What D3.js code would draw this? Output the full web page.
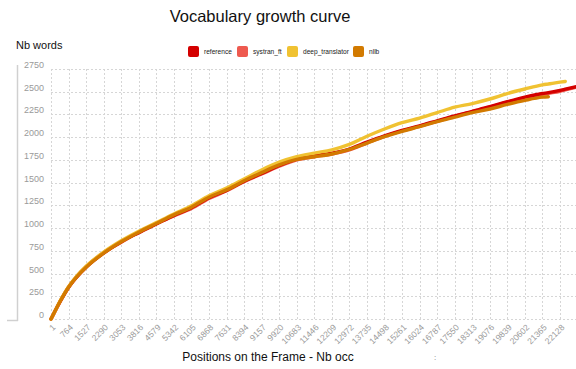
<!DOCTYPE html>
<html>
<head>
<meta charset="utf-8">
<script src="https://cdn.jsdelivr.net/npm/d3@7"></script>
<style>
  html, body { margin: 0; padding: 0; background: #fff; }
  svg { display: block; font-family: "Liberation Sans", Arial, sans-serif; }
</style>
</head>
<body>
<svg id="chart" width="576" height="369"></svg>
<script>
// Sample positions (number of occurrences read so far)
const positions = [1, 150, 400, 764, 1146, 1527, 2290, 3053, 3816, 4579, 5342, 6105, 6868, 7631, 8394,
  9157, 9920, 10683, 11446, 12209, 12972, 13735, 14498, 15261, 16024, 16787, 17550, 18313,
  19076, 19839, 20602, 21365, 21620, 22128, 22357, 23000];

// Distinct words seen at each position, per system
const reference = [0, 75, 195, 350, 470, 570, 725, 850, 950, 1045, 1140, 1225, 1335, 1415, 1515,
  1600, 1690, 1760, 1795, 1825, 1870, 1945, 2015, 2075, 2125, 2180, 2235, 2285, 2335, 2390,
  2440, 2480, 2490, 2515, 2528, 2565];
const systran_ft = [0, 72, 190, 345, 475, 575, 730, 845, 955, 1050, 1135, 1215, 1325, 1410, 1510,
  1595, 1680, 1750, 1785, 1815, 1860, 1935, 2010, 2070, 2120, 2175, 2230, 2280, 2330, 2385,
  2430, 2470, 2482, 2505, 2520, 2560];
const deep_translator = [0, 75, 200, 355, 480, 580, 735, 860, 965, 1060, 1155, 1245, 1355, 1440, 1540,
  1640, 1725, 1785, 1825, 1860, 1920, 2010, 2090, 2160, 2210, 2270, 2330, 2370, 2420, 2480,
  2530, 2575, 2585, 2605, 2613, null];
const nllb = [0, 75, 195, 350, 472, 570, 725, 850, 955, 1050, 1145, 1230, 1340, 1420, 1520,
  1610, 1695, 1755, 1785, 1815, 1865, 1935, 2005, 2065, 2115, 2170, 2220, 2270, 2310, 2360,
  2405, 2440, 2445, null, null, null];

const xTicks = [1, 764, 1527, 2290, 3053, 3816, 4579, 5342, 6105, 6868, 7631, 8394, 9157, 9920,
  10683, 11446, 12209, 12972, 13735, 14498, 15261, 16024, 16787, 17550, 18313, 19076, 19839,
  20602, 21365, 22128];
const yTicks = [0, 250, 500, 750, 1000, 1250, 1500, 1750, 2000, 2250, 2500, 2750];

const seriesNames = ["reference", "systran_ft", "deep_translator", "nllb"];
const seriesColors = ["#d40000", "#ee5a4f", "#f0c232", "#d27a00"];
const seriesValues = [reference, systran_ft, deep_translator, nllb];
// draw order: nllb ends up on top
const drawOrder = [1, 0, 2, 3];

const svg = d3.select("#chart");
const W = 576;

const x = d3.scaleLinear().domain([1, 22128]).range([51, 560]);
const y = d3.scaleLinear().domain([0, 2750]).range([319, 69]);

// Title
svg.append("text")
  .attr("x", 260).attr("y", 22)
  .attr("text-anchor", "middle")
  .attr("font-size", 16.5)
  .attr("fill", "#111")
  .text("Vocabulary growth curve");

svg.append("text")
  .attr("x", 16).attr("y", 49)
  .attr("font-size", 11)
  .attr("fill", "#111")
  .text("Nb words");

// Legend
const legendX = [188, 237, 287, 353];
const legend = svg.append("g");
seriesNames.forEach((name, i) => {
  legend.append("rect")
    .attr("x", legendX[i]).attr("y", 46)
    .attr("width", 11).attr("height", 11)
    .attr("rx", 2)
    .attr("fill", seriesColors[i]);
  legend.append("text")
    .attr("x", legendX[i] + 16).attr("y", 54)
    .attr("font-size", 6.6)
    .attr("fill", "#222")
    .text(name);
});

// Left axis line with foot
svg.append("line").attr("x1", 17.5).attr("x2", 17.5).attr("y1", 65).attr("y2", 321)
  .attr("stroke", "#d0d0d0").attr("stroke-width", 1.5);
svg.append("line").attr("x1", 7).attr("x2", 18).attr("y1", 320.5).attr("y2", 320.5)
  .attr("stroke", "#d0d0d0").attr("stroke-width", 1.5);

// Grid
const grid = svg.append("g").attr("stroke", "#d6d6d6").attr("stroke-width", 1)
  .attr("stroke-dasharray", "2,2");
grid.selectAll("line.h").data(yTicks).join("line")
  .attr("class", "h")
  .attr("x1", 51).attr("x2", W)
  .attr("y1", d => Math.round(y(d)) + 0.5).attr("y2", d => Math.round(y(d)) + 0.5);
grid.selectAll("line.v").data(xTicks.concat([22891])).join("line")
  .attr("class", "v")
  .attr("x1", d => Math.round(x(d)) + 0.5).attr("x2", d => Math.round(x(d)) + 0.5)
  .attr("y1", 69).attr("y2", 319);

// Y tick labels
svg.append("g").selectAll("text").data(yTicks).join("text")
  .attr("x", 44).attr("y", d => y(d) - 1)
  .attr("text-anchor", "end")
  .attr("font-size", 9)
  .attr("fill", "#9a9a9a")
  .text(d => d);

// X tick labels, rotated
svg.append("g").selectAll("text").data(xTicks).join("text")
  .attr("transform", d => `translate(${x(d) + 5},${328}) rotate(-45)`)
  .attr("text-anchor", "end")
  .attr("font-size", 8.5)
  .attr("fill", "#9a9a9a")
  .text(d => d);

svg.append("text")
  .attr("x", 268).attr("y", 361)
  .attr("text-anchor", "middle")
  .attr("font-size", 12)
  .attr("fill", "#111")
  .text("Positions on the Frame - Nb occ");

svg.append("text")
  .attr("x", 435).attr("y", 360)
  .attr("text-anchor", "middle")
  .attr("font-size", 8)
  .attr("fill", "#777")
  .text(":");

// Curves
const line = d3.line()
  .defined(d => d[1] !== null)
  .x(d => x(d[0]))
  .y(d => y(d[1]))
  .curve(d3.curveMonotoneX);

const curves = svg.append("g");
drawOrder.forEach(i => {
  const pts = positions.map((p, j) => [p, seriesValues[i][j]]);
  curves.append("path")
    .datum(pts)
    .attr("fill", "none")
    .attr("stroke", seriesColors[i])
    .attr("stroke-width", 3.4)
    .attr("stroke-linejoin", "round")
    .attr("stroke-linecap", "round")
    .attr("d", line);
});
</script>
</body>
</html>
